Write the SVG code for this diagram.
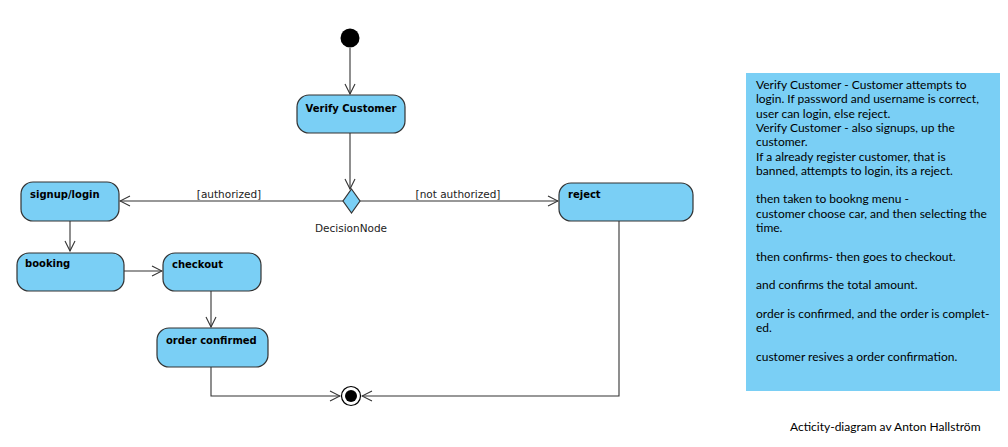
<svg xmlns="http://www.w3.org/2000/svg" width="1008" height="447" viewBox="0 0 1008 447">
<style>
.node{fill:#7acff5;stroke:#333;stroke-width:1.2}
.lbl{font-family:"DejaVu Sans",sans-serif;font-size:10px;font-weight:bold;fill:#000}
.edge{fill:none;stroke:#333;stroke-width:1.1}
.guard{font-family:"DejaVu Sans",sans-serif;font-size:10.5px;fill:#222}
.note{font-family:Lato,sans-serif;font-size:12px;fill:#000}
</style>
<defs>
<marker id="arr" viewBox="0 0 12 12" refX="11" refY="6" markerWidth="12" markerHeight="12" markerUnits="userSpaceOnUse" orient="auto">
<path d="M1,1 L11,6 L1,11" fill="none" stroke="#333" stroke-width="1.1"/>
</marker>
</defs>
<rect width="1008" height="447" fill="#fff"/>
<g id="connectors">
<line class="edge" x1="350" y1="48" x2="350" y2="94" marker-end="url(#arr)"/>
<line class="edge" x1="350" y1="133" x2="350" y2="189" marker-end="url(#arr)"/>
<line class="edge" x1="343" y1="201" x2="120" y2="201" marker-end="url(#arr)"/>
<line class="edge" x1="360" y1="201" x2="558" y2="201" marker-end="url(#arr)"/>
<line class="edge" x1="70" y1="221" x2="70" y2="251" marker-end="url(#arr)"/>
<line class="edge" x1="124" y1="271" x2="162" y2="271" marker-end="url(#arr)"/>
<line class="edge" x1="211" y1="291" x2="211" y2="327" marker-end="url(#arr)"/>
<polyline class="edge" points="211,367 211,396 340,396" marker-end="url(#arr)"/>
<polyline class="edge" points="619,221 619,396 362,396" marker-end="url(#arr)"/>
<rect x="185" y="187" width="87" height="13" fill="#fff"/>
<text class="guard" x="229" y="198" text-anchor="middle">[authorized]</text>
<rect x="405" y="187" width="106" height="13" fill="#fff"/>
<text class="guard" x="458" y="198" text-anchor="middle">[not authorized]</text>
</g>
<g id="start"><circle cx="350" cy="38" r="9.5" fill="#000"/></g>
<g id="verify">
<rect class="node" x="297" y="95" width="108" height="38" rx="12"/>
<text class="lbl" x="351" y="112" text-anchor="middle">Verify Customer</text>
</g>
<g id="decision">
<polygon class="node" points="351.5,189 360,201 351.5,213 343,201"/>
<text class="guard" x="351" y="232" text-anchor="middle">DecisionNode</text>
</g>
<g id="signup">
<rect class="node" x="21" y="182" width="98" height="39" rx="12"/>
<text class="lbl" x="30" y="198">signup/login</text>
</g>
<g id="reject">
<rect class="node" x="559" y="183" width="134" height="38" rx="12"/>
<text class="lbl" x="568" y="198">reject</text>
</g>
<g id="booking">
<rect class="node" x="17" y="253" width="107" height="38" rx="12"/>
<text class="lbl" x="25" y="267">booking</text>
</g>
<g id="checkout">
<rect class="node" x="163" y="253" width="98" height="38" rx="12"/>
<text class="lbl" x="172" y="268">checkout</text>
</g>
<g id="confirmed">
<rect class="node" x="157" y="328" width="111" height="39" rx="12"/>
<text class="lbl" x="166" y="344">order confirmed</text>
</g>
<g id="final">
<circle cx="351" cy="396" r="9.5" fill="#fff" stroke="#000" stroke-width="1.2"/>
<circle cx="351" cy="396" r="6" fill="#000"/>
</g>
<g id="note">
<rect x="746" y="73" width="254" height="318" fill="#7acff5"/>
<text class="note">
<tspan x="756" y="89">Verify Customer - Customer attempts to</tspan>
<tspan x="756" y="103.3">login. If password and username is correct,</tspan>
<tspan x="756" y="117.6">user can login, else reject.</tspan>
<tspan x="756" y="131.9">Verify Customer - also signups, up the</tspan>
<tspan x="756" y="146.2">customer.</tspan>
<tspan x="756" y="160.5">If a already register customer, that is</tspan>
<tspan x="756" y="174.8">banned, attempts to login, its a reject.</tspan>
<tspan x="756" y="203.4">then taken to bookng menu -</tspan>
<tspan x="756" y="217.7">customer choose car, and then selecting the</tspan>
<tspan x="756" y="232">time.</tspan>
<tspan x="756" y="260.6">then confirms- then goes to checkout.</tspan>
<tspan x="756" y="289.2">and confirms the total amount.</tspan>
<tspan x="756" y="317.8">order is confirmed, and the order is complet-</tspan>
<tspan x="756" y="332.1">ed.</tspan>
<tspan x="756" y="360.7">customer resives a order confirmation.</tspan>
</text>
</g>
<g id="footer">
<text class="note" x="790" y="431">Acticity-diagram av Anton Hallström</text>
</g>
</svg>
